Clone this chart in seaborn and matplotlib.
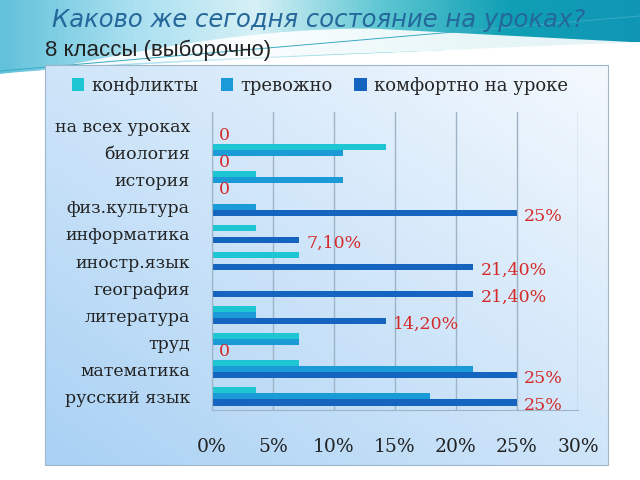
import numpy as np
import pandas as pd
import matplotlib.pyplot as plt
import seaborn as sns
from matplotlib.colors import LinearSegmentedColormap
from matplotlib.patches import Polygon

subjects = ["на всех уроках", "биология", "история", "физ.культура", "информатика",
            "иностр.язык", "география", "литература", "труд", "математика", "русский язык"]
conflicts = [0, 14.29, 3.57, 0, 3.57, 7.14, 0, 3.57, 7.14, 7.14, 3.57]
anxious = [0, 10.71, 10.71, 3.57, 0, 0, 0, 3.57, 7.14, 21.43, 17.86]
comfortable = [0, 0, 0, 25, 7.14, 21.43, 21.43, 14.29, 0, 25, 25]
comfort_labels = ["0", "0", "0", "25%", "7,10%", "21,40%", "21,40%", "14,20%", "0", "25%", "25%"]
series_names = ["конфликты", "тревожно", "комфортно на уроке"]
series_colors = ["#1ec5d2", "#1a9bd7", "#1565c0"]
x_ticks = [0, 5, 10, 15, 20, 25, 30]

df = pd.DataFrame({"subject": subjects, series_names[0]: conflicts,
                   series_names[1]: anxious, series_names[2]: comfortable})
df = df.melt(id_vars="subject", var_name="series", value_name="value")

sns.set_style("white")
serif = ["DejaVu Serif"]

fig = plt.figure(figsize=(6.4, 4.8), dpi=100)
fig.patch.set_facecolor("white")

# slide background: top wave band and chart panel
bg = fig.add_axes([0, 0, 1, 1], zorder=-1)
bg.set_xlim(0, 640)
bg.set_ylim(480, 0)
bg.axis("off")

band_cmap = LinearSegmentedColormap.from_list(
    "band", ["#62c2da", "#a8dff0", "#d6f0f6", "#5cc6d2", "#0f9fb4", "#1196b6"])
band_img = bg.imshow(np.tile(np.linspace(0, 1, 200), (10, 1)), extent=(0, 640, 80, 0),
                     cmap=band_cmap, aspect="auto", zorder=0)
xs = np.linspace(0, 640, 100)
band_edge = 74 - 32 * (xs / 640) ** 0.8
band_poly = Polygon(np.vstack([np.column_stack([xs, band_edge]), [[640, 0], [0, 0]]]),
                    closed=True, transform=bg.transData)
band_img.set_clip_path(band_poly)

swoosh_x = np.linspace(40, 640, 100)
upper = 70 - 42 * np.sin(np.clip((swoosh_x - 40) / 330, 0, 1) * np.pi / 2) \
    + 14 * np.clip((swoosh_x - 370) / 270, 0, 1)
lower = 72 - 28 * ((swoosh_x - 40) / 600) ** 0.6
bg.fill_between(swoosh_x, upper, lower, color="white", alpha=0.9, lw=0, zorder=1)
bg.plot(xs, 71 - 55 * (xs / 640), color="#3aa9c4", lw=0.7, zorder=1)

grad = np.add.outer(np.linspace(0, 1, 100), np.linspace(1, 0, 100)) / 2
cmap = LinearSegmentedColormap.from_list("panel", ["#f4f9fe", "#a9d1f4"])
bg.imshow(grad, extent=(45, 608, 465, 65), cmap=cmap, aspect="auto", zorder=2)
bg.add_patch(plt.Rectangle((45, 65), 563, 400, fill=False, ec="#9fb6c9", lw=0.8, zorder=3))

ax = fig.add_axes([212 / 640, 70 / 480, 366 / 640, 298 / 480])
ax.set_facecolor("none")
sns.barplot(data=df, y="subject", x="value", hue="series", order=subjects,
            hue_order=series_names, palette=series_colors, width=0.67,
            saturation=1, orient="h", linewidth=0, ax=ax)

texts = ax.bar_label(ax.containers[2], labels=comfort_labels, padding=5,
                     color="#d42a2a", fontsize=12.5, family=serif)
for t in texts:
    t.xyann = (5, -2.5)

ax.set_xlim(0, 30)
ax.set_xticks(x_ticks)
ax.set_xticklabels([f"{t}%" for t in x_ticks], family=serif, fontsize=13.5)
ax.set_yticklabels(subjects, family=serif, fontsize=12.5)
ax.tick_params(axis="x", length=0, pad=20, colors="#222222")
ax.tick_params(axis="y", length=0, pad=16, colors="#222222")
ax.set_xlabel("")
ax.set_ylabel("")
ax.grid(axis="x", color="#9fb3c6", lw=1)
ax.set_axisbelow(True)
for side in ["top", "right"]:
    ax.spines[side].set_visible(False)
for side in ["left", "bottom"]:
    ax.spines[side].set_color("#9fb3c6")

handles, labels = ax.get_legend_handles_labels()
ax.legend(handles, labels, loc="center", bbox_to_anchor=(0.5, 1 - 86 / 480),
          bbox_transform=fig.transFigure, ncol=3, frameon=False,
          prop={"family": serif, "size": 13}, handlelength=0.7, handleheight=0.7,
          handletextpad=0.4, columnspacing=1.2)

fig.text(52 / 640, 1 - 20 / 480, "Каково же сегодня состояние на уроках?",
         style="italic", color="#24679a", fontsize=17.5, va="center", family=["DejaVu Sans"])
fig.text(45 / 640, 1 - 50 / 480, "8 классы (выборочно)", color="#222222",
         fontsize=16, va="center", family=["Liberation Sans"])

fig.savefig("out.png", dpi=100)
